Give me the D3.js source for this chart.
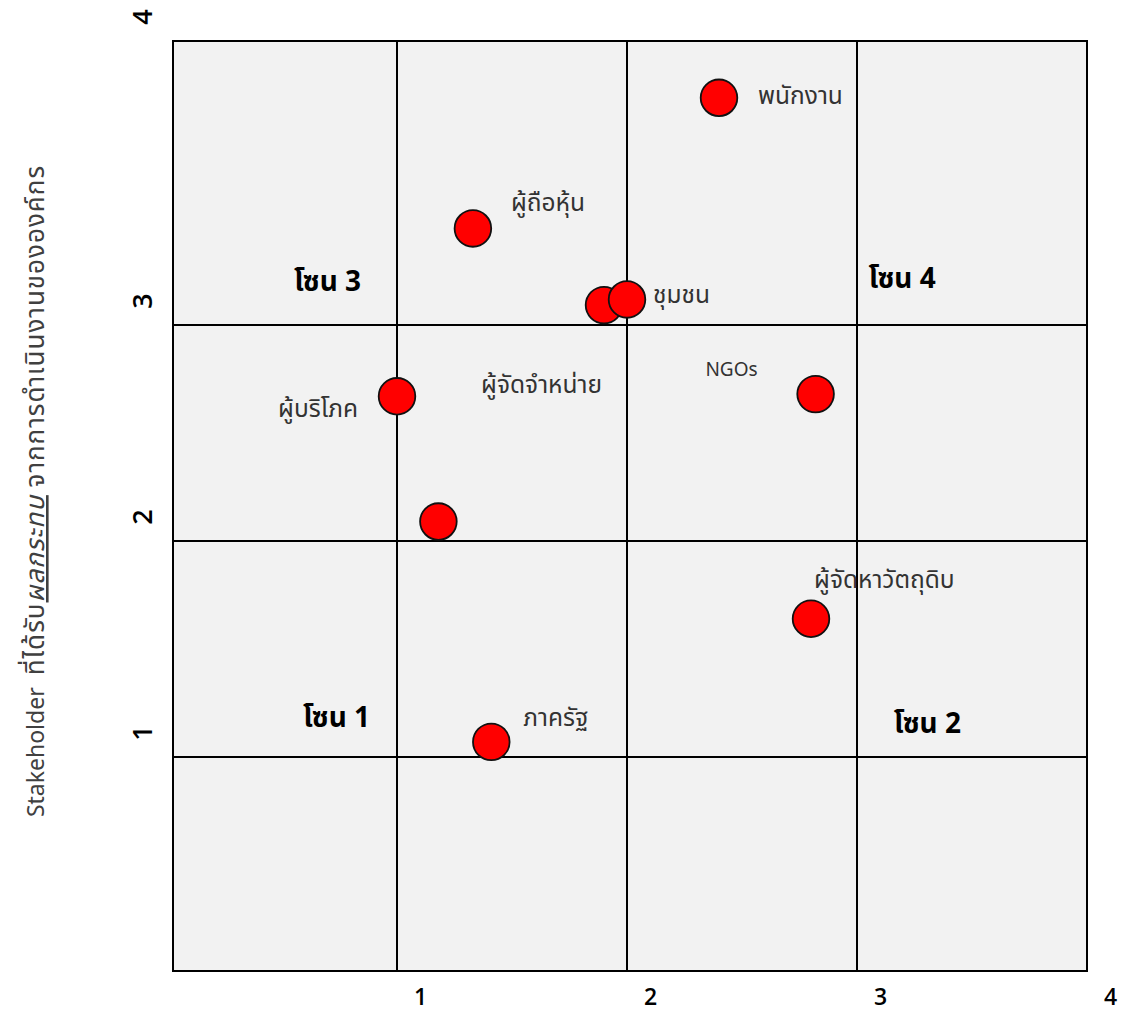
<!DOCTYPE html>
<html>
<head>
<meta charset="utf-8">
<script src="https://cdn.jsdelivr.net/npm/d3@7"></script>
<style>
  body { margin: 0; background: #fff; }
  text { font-family: "Noto Sans Thai", "Noto Sans", "Open Sans", sans-serif; }
</style>
</head>
<body>
<div id="chart"></div>
<script>
// stakeholders, x = operation impact, y = impact received
const stakeholders = ["พนักงาน", "ผู้ถือหุ้น", "ผู้จัดจำหน่าย", "ชุมชน", "ผู้บริโภค", "", "NGOs", "ผู้จัดหาวัตถุดิบ", "ภาครัฐ"];
const xValues = [2.40, 1.33, 1.90, 2.00, 1.00, 1.18, 2.82, 2.80, 1.41];
const yValues = [3.80, 3.34, 3.07, 3.09, 2.67, 2.09, 2.68, 1.64, 1.07];
const tickLabels = [1, 2, 3, 4];
const gridValues = [1, 2, 3];
const zoneNames = ["โซน 1", "โซน 2", "โซน 3", "โซน 4"];

// label placement relative to each dot (px): dx, dy, anchor
const labelOffsets = [
  [39, 6, "start"], [38, -17, "start"], [-2, 88, "end"], [26, 4, "start"],
  [-39, 21, "end"], [0, 0, "start"], [-58, -18, "end"], [3, -31, "start"], [32, -16, "start"]
];
// zone label anchors in data space
const zoneAnchors = [[0.58, 1.14], [3.16, 1.11], [0.54, 3.12], [3.05, 3.13]];

const width = 1123, height = 1012;
const plotLeft = 173, plotRight = 1087, plotTop = 41, plotBottom = 971;

const svg = d3.select("#chart").append("svg")
    .attr("width", width)
    .attr("height", height);

// cells are not equal in the original, so the scales are piecewise
const x = d3.scaleLinear()
    .domain([0, 1, 2, 3, 4])
    .range([plotLeft, 397, 627, 857, plotRight]);
const y = d3.scaleLinear()
    .domain([0, 1, 2, 3, 4])
    .range([plotBottom, 757, 541, 325, plotTop]);

svg.append("rect")
    .attr("x", x(0))
    .attr("y", y(4))
    .attr("width", x(4) - x(0))
    .attr("height", y(0) - y(4))
    .attr("fill", "#f2f2f2")
    .attr("stroke", "#000")
    .attr("stroke-width", 2);

svg.selectAll(".vgrid")
    .data(gridValues)
    .join("line")
    .attr("class", "vgrid")
    .attr("x1", d => x(d)).attr("x2", d => x(d))
    .attr("y1", y(4)).attr("y2", y(0))
    .attr("stroke", "#000")
    .attr("stroke-width", 2);

svg.selectAll(".hgrid")
    .data(gridValues)
    .join("line")
    .attr("class", "hgrid")
    .attr("y1", d => y(d)).attr("y2", d => y(d))
    .attr("x1", x(0)).attr("x2", x(4))
    .attr("stroke", "#000")
    .attr("stroke-width", 2);

// x axis labels (offset to the right of the grid lines, like the original)
const xAxis = svg.append("g")
    .attr("transform", `translate(0,${plotBottom})`)
    .call(d3.axisBottom(x).tickValues(tickLabels).tickFormat(d3.format("d")).tickSize(0));
xAxis.select(".domain").remove();
xAxis.selectAll("text")
    .attr("x", 23)
    .attr("y", 34)
    .attr("dy", null)
    .attr("fill", "#000")
    .style("font-family", "'Open Sans', sans-serif")
    .style("font-size", "23px")
    .style("font-weight", 600);

// y axis labels, rotated
const yAxis = svg.append("g")
    .attr("transform", `translate(${plotLeft},0)`)
    .call(d3.axisLeft(y).tickValues(tickLabels).tickFormat(d3.format("d")).tickSize(0));
yAxis.select(".domain").remove();
yAxis.selectAll(".tick").attr("transform", d => `translate(0,${y(d) - 24})`);
yAxis.selectAll("text")
    .attr("x", null)
    .attr("dy", null)
    .attr("text-anchor", "middle")
    .attr("transform", "translate(-21,0) rotate(-90)")
    .attr("fill", "#000")
    .style("font-family", "'Open Sans', sans-serif")
    .style("font-size", "27px")
    .style("font-weight", 600);

// y title
const title = svg.append("text")
    .attr("transform", `translate(44,${491}) rotate(-90)`)
    .attr("text-anchor", "middle")
    .attr("fill", "#404040")
    .style("font-size", "23px")
    .style("white-space", "pre");
title.append("tspan").text("Stakeholder  ");
title.append("tspan").text("ที่ได้รับ")
    .style("font-size", "26px")
    .style("letter-spacing", "1px");
title.append("tspan").text("ผลกระทบ")
    .style("font-size", "26px")
    .style("letter-spacing", "1px")
    .style("font-style", "italic")
    .style("text-decoration", "underline");
title.append("tspan").text(" จากการดำเนินงานขององค์กร")
    .style("font-size", "26px")
    .style("letter-spacing", "1px");

// zone labels
svg.selectAll(".zone")
    .data(zoneNames)
    .join("text")
    .attr("class", "zone")
    .attr("x", (d, i) => x(zoneAnchors[i][0]))
    .attr("y", (d, i) => y(zoneAnchors[i][1]))
    .attr("fill", "#000")
    .style("font-size", "28px")
    .style("font-weight", "bold")
    .style("white-space", "pre")
    .text(d => d);

const points = stakeholders.map((name, i) => ({ name, x: xValues[i], y: yValues[i], off: labelOffsets[i] }));

svg.selectAll(".dot")
    .data(points)
    .join("circle")
    .attr("class", "dot")
    .attr("cx", d => x(d.x))
    .attr("cy", d => y(d.y))
    .attr("r", 18.3)
    .attr("fill", "#ff0000")
    .attr("stroke", "#111")
    .attr("stroke-width", 1.8);

svg.selectAll(".label")
    .data(points.filter(d => d.name))
    .join("text")
    .attr("class", "label")
    .attr("x", d => x(d.x) + d.off[0])
    .attr("y", d => y(d.y) + d.off[1])
    .attr("text-anchor", d => d.off[2])
    .attr("fill", "#333")
    .style("font-size", d => d.name === "NGOs" ? "19px" : "24.5px")
    .text(d => d.name);
</script>
</body>
</html>
